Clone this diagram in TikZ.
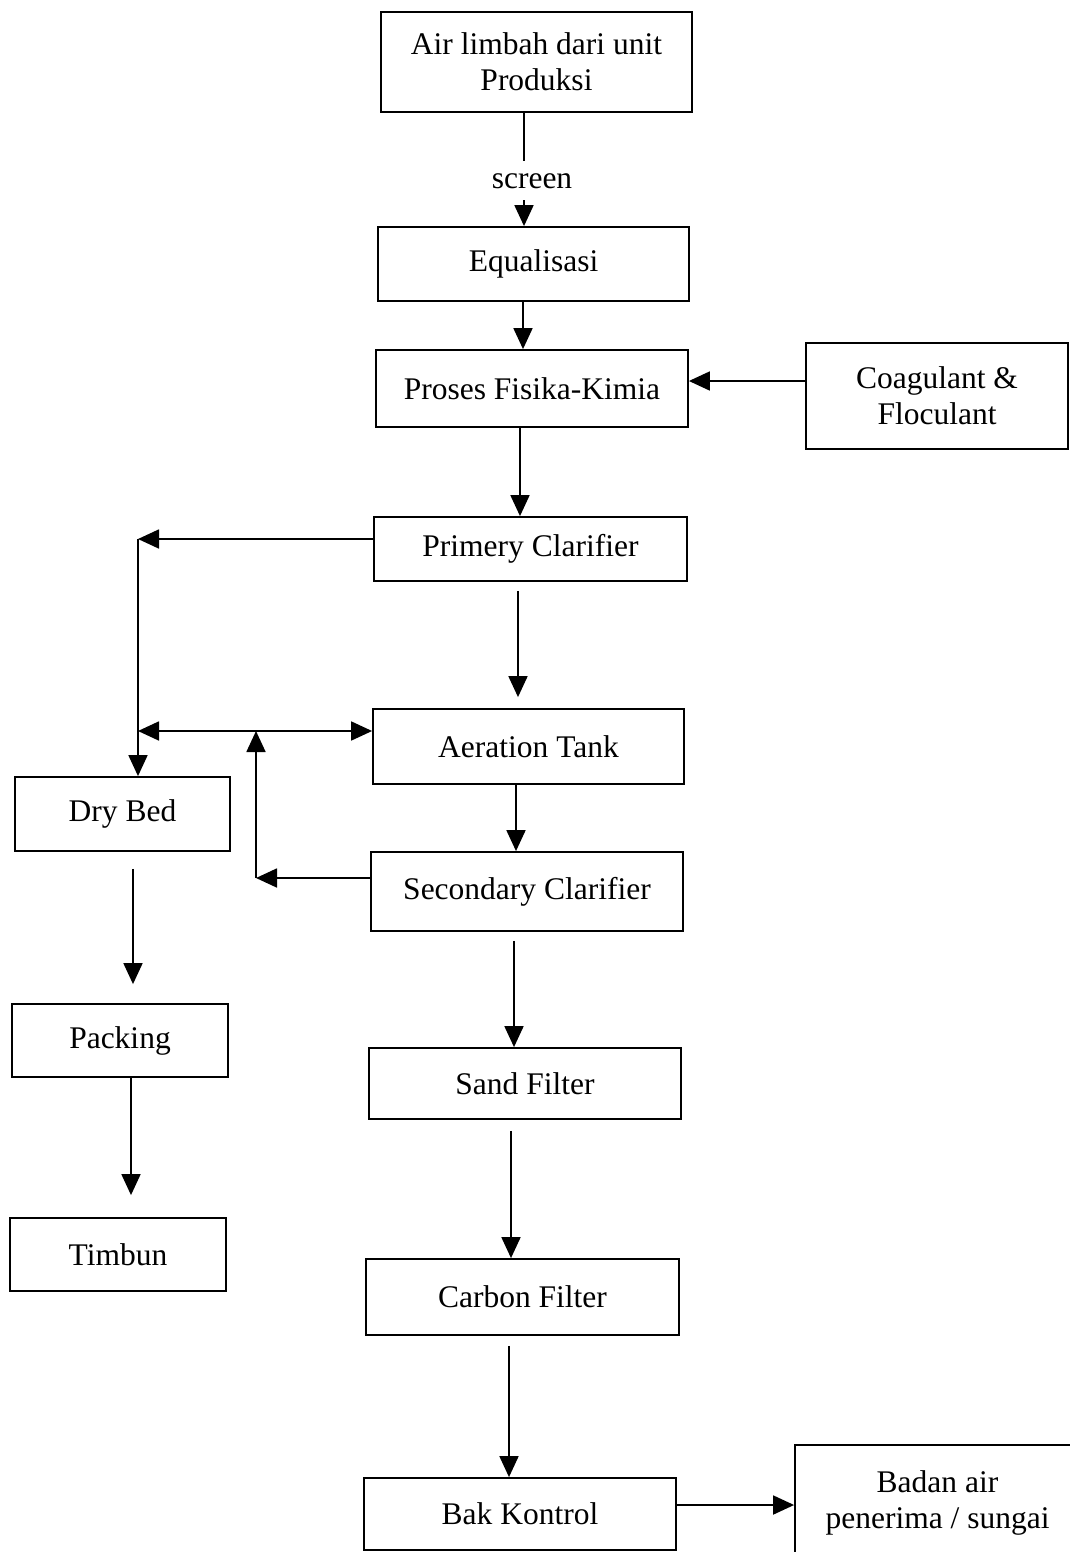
\documentclass[tikz,border=0pt]{standalone}
\usepackage{fontspec}
\setmainfont{Liberation Serif}
\usetikzlibrary{arrows.meta}
\begin{document}
\begin{tikzpicture}[x=1pt,y=-1pt,
  box/.style={draw, line width=1.8pt, align=center, inner sep=0pt,
    font=\fontsize{31.5}{36}\selectfont},
  lbl/.style={font=\fontsize{31.5}{36}\selectfont},
  flow/.style={line width=1.8pt},
  arr/.style={flow, -{Triangle[length=21pt,width=19pt]}},
  arrboth/.style={flow, {Triangle[length=21pt,width=19pt]}-{Triangle[length=21pt,width=19pt]}}]
\useasboundingbox (0,0) rectangle (1070,1552);

% main treatment line
\node[box, minimum width=311pt, minimum height=100pt] (air) at (536.5,62) {Air limbah dari unit\\Produksi};
\node[box, minimum width=311pt, minimum height=74pt] (eq) at (533.5,264) {Equalisasi};
\node[box, minimum width=312pt, minimum height=77pt] (pfk) at (532,388.5) {Proses Fisika-Kimia};
\node[box, minimum width=262pt, minimum height=106pt] (coag) at (937,396) {Coagulant \&\\Floculant};
\node[box, minimum width=313pt, minimum height=64pt] (prim) at (530.5,549) {Primery Clarifier};
\node[box, minimum width=311pt, minimum height=75pt] (aer) at (528.5,746.5) {Aeration Tank};
\node[box, minimum width=312pt, minimum height=79pt] (sec) at (527,891.5) {Secondary Clarifier};
\node[box, minimum width=312pt, minimum height=71pt] (sand) at (525,1083.5) {Sand Filter};
\node[box, minimum width=313pt, minimum height=76pt] (carb) at (522.5,1297) {Carbon Filter};
\node[box, minimum width=312pt, minimum height=72pt] (bak) at (520,1514) {Bak Kontrol};
\node[box, minimum width=285pt, minimum height=115pt] (badan) at (937.5,1502.5) {Badan air\\penerima / sungai};

% sludge line
\node[box, minimum width=215pt, minimum height=74pt] (dry) at (122.5,814) {Dry Bed};
\node[box, minimum width=216pt, minimum height=73pt] (pack) at (120,1040.5) {Packing};
\node[box, minimum width=216pt, minimum height=73pt] (timb) at (118,1254.5) {Timbun};

% corner points of the sludge and return lines
\coordinate (c1) at (138,539);
\coordinate (c2) at (138,731);
\coordinate (c3) at (256,878);

% connectors
\draw[arr] ([xshift=-12.5pt]air.south) -- ([xshift=-12.5pt]air.south |- eq.north)
  node[lbl, pos=0.6, xshift=8pt, fill=white, inner xsep=3pt, inner ysep=12pt] (scr) {screen};
\draw[arr] ([xshift=-10.5pt]eq.south) -- ([xshift=-10.5pt]eq.south |- pfk.north);
\draw[arr] ([yshift=15pt]coag.west) -- ([yshift=15pt]coag.west -| pfk.east);
\draw[arr] ([xshift=-12pt]pfk.south) -- ([xshift=-12pt]pfk.south |- prim.north);
\draw[arr, shorten <=9pt, shorten >=11pt] ([xshift=-12.5pt]prim.south) -- ([xshift=-12.5pt]prim.south |- aer.north);
\draw[arr] ([xshift=-12.5pt]aer.south) -- ([xshift=-12.5pt]aer.south |- sec.north);
\draw[arr, shorten <=9pt] ([xshift=-13pt]sec.south) -- ([xshift=-13pt]sec.south |- sand.north);
\draw[arr, shorten <=11pt] ([xshift=-14pt]sand.south) -- ([xshift=-14pt]sand.south |- carb.north);
\draw[arr, shorten <=10pt] ([xshift=-13.5pt]carb.south) -- ([xshift=-13.5pt]carb.south |- bak.north);
\draw[arr] ([yshift=9pt]bak.east) -- ([yshift=9pt]bak.east -| badan.west);

\draw[arr] ([yshift=10pt]prim.west) -- (c1);
\draw[arr] (c1) -- (c1 |- dry.north);
\draw[arrboth] (c2) -- (c2 -| aer.west);
\draw[arr] ([yshift=13.5pt]sec.west) -- (c3);
\draw[arr] (c3) -- (c3 |- c2);

\draw[arr, shorten <=17pt, shorten >=19pt] ([xshift=10.5pt]dry.south) -- ([xshift=10.5pt]dry.south |- pack.north);
\draw[arr, shorten >=22pt] ([xshift=11pt]pack.south) -- ([xshift=11pt]pack.south |- timb.north);
\end{tikzpicture}
\end{document}
